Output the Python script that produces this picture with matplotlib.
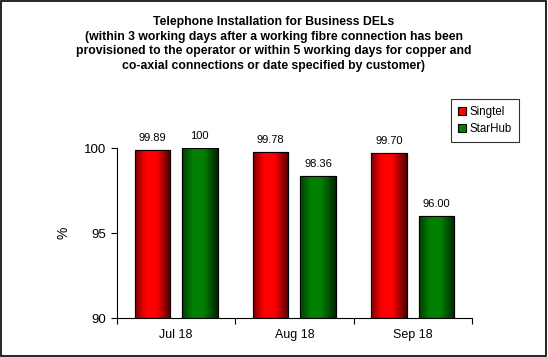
import numpy as np
import matplotlib.pyplot as plt
from matplotlib.patches import Rectangle

plt.rcParams['font.family'] = ['Liberation Sans', 'DejaVu Sans']

months = ['Jul 18', 'Aug 18', 'Sep 18']
singtel = [99.89, 99.78, 99.70]
starhub = [100, 98.36, 96.00]
singtel_lbl = ['99.89', '99.78', '99.70']
starhub_lbl = ['100', '98.36', '96.00']

title = ('Telephone Installation for Business DELs\n'
         '(within 3 working days after a working fibre connection has been\n'
         'provisioned to the operator or within 5 working days for copper and\n'
         'co-axial connections or date specified by customer)')

fig = plt.figure(figsize=(5.48, 3.57), dpi=100)
ax = fig.add_axes([0.2135, 0.109, 0.6475, 0.476])

x = np.arange(len(months))
w = 0.3
b1 = ax.bar(x - 0.2, singtel, w, color='#ff0000', edgecolor='black', linewidth=0.8, label='Singtel', zorder=2)
b2 = ax.bar(x + 0.2, starhub, w, color='#008000', edgecolor='black', linewidth=0.8, label='StarHub', zorder=2)

ax.set_xlim(-0.5, 2.5)
ax.set_ylim(90, 100)

# horizontal shading inside each bar
prof = np.interp(np.linspace(0, 1, 64), [0, 0.3, 0.6, 1], [0.5, 1, 1, 0.3])
for bars, base in [(b1, np.array([1, 0, 0])), (b2, np.array([0, 0.5, 0]))]:
    for p in bars:
        img = (prof[:, None] * base[None, :])[None, :, :]
        x0 = p.get_x()
        im = ax.imshow(img, extent=[x0, x0 + p.get_width(), 90, p.get_height()],
                       aspect='auto', zorder=2.5, interpolation='bilinear')
        im.set_clip_path(p)
        ax.add_patch(Rectangle((x0, 90), p.get_width(), p.get_height() - 90,
                               fill=False, edgecolor='black', linewidth=0.8, zorder=3))

for bars, lbls in [(b1, singtel_lbl), (b2, starhub_lbl)]:
    for p, t in zip(bars, lbls):
        ax.annotate(t, (p.get_x() + p.get_width() / 2, p.get_height()),
                    xytext=(0, 5), textcoords='offset points',
                    ha='center', va='bottom', fontsize=8)

ax.set_yticks([90, 95, 100])
ax.set_xticks([-0.5, 0.5, 1.5, 2.5])
ax.set_xticklabels([])
ax.set_xticks(x, minor=True)
ax.set_xticklabels(months, minor=True, fontsize=9)
ax.tick_params(axis='x', which='minor', length=0, pad=8)
ax.tick_params(axis='x', which='major', length=4, direction='out')
ax.tick_params(axis='y', labelsize=9.5, length=4, direction='out')
ax.spines['top'].set_visible(False)
ax.spines['right'].set_visible(False)
ax.set_ylabel('%', fontsize=10, labelpad=10)

fig.text(0.5, 0.877, title, ha='center', va='center', fontsize=8.8,
         fontweight='bold', linespacing=1.3)

leg = fig.legend(handles=[b1, b2], loc='upper left', bbox_to_anchor=(0.823, 0.722),
                 fontsize=8.3, frameon=True, fancybox=False, handlelength=0.7,
                 handleheight=0.7, handletextpad=0.3, borderpad=0.6,
                 labelspacing=0.45, borderaxespad=0)
leg.get_frame().set_edgecolor('black')
leg.get_frame().set_linewidth(0.8)

fig.patches.append(Rectangle((0.002, 0.003), 0.995, 0.994, transform=fig.transFigure,
                             fill=False, edgecolor='black', linewidth=1.2))

fig.savefig('out.png', dpi=100)
